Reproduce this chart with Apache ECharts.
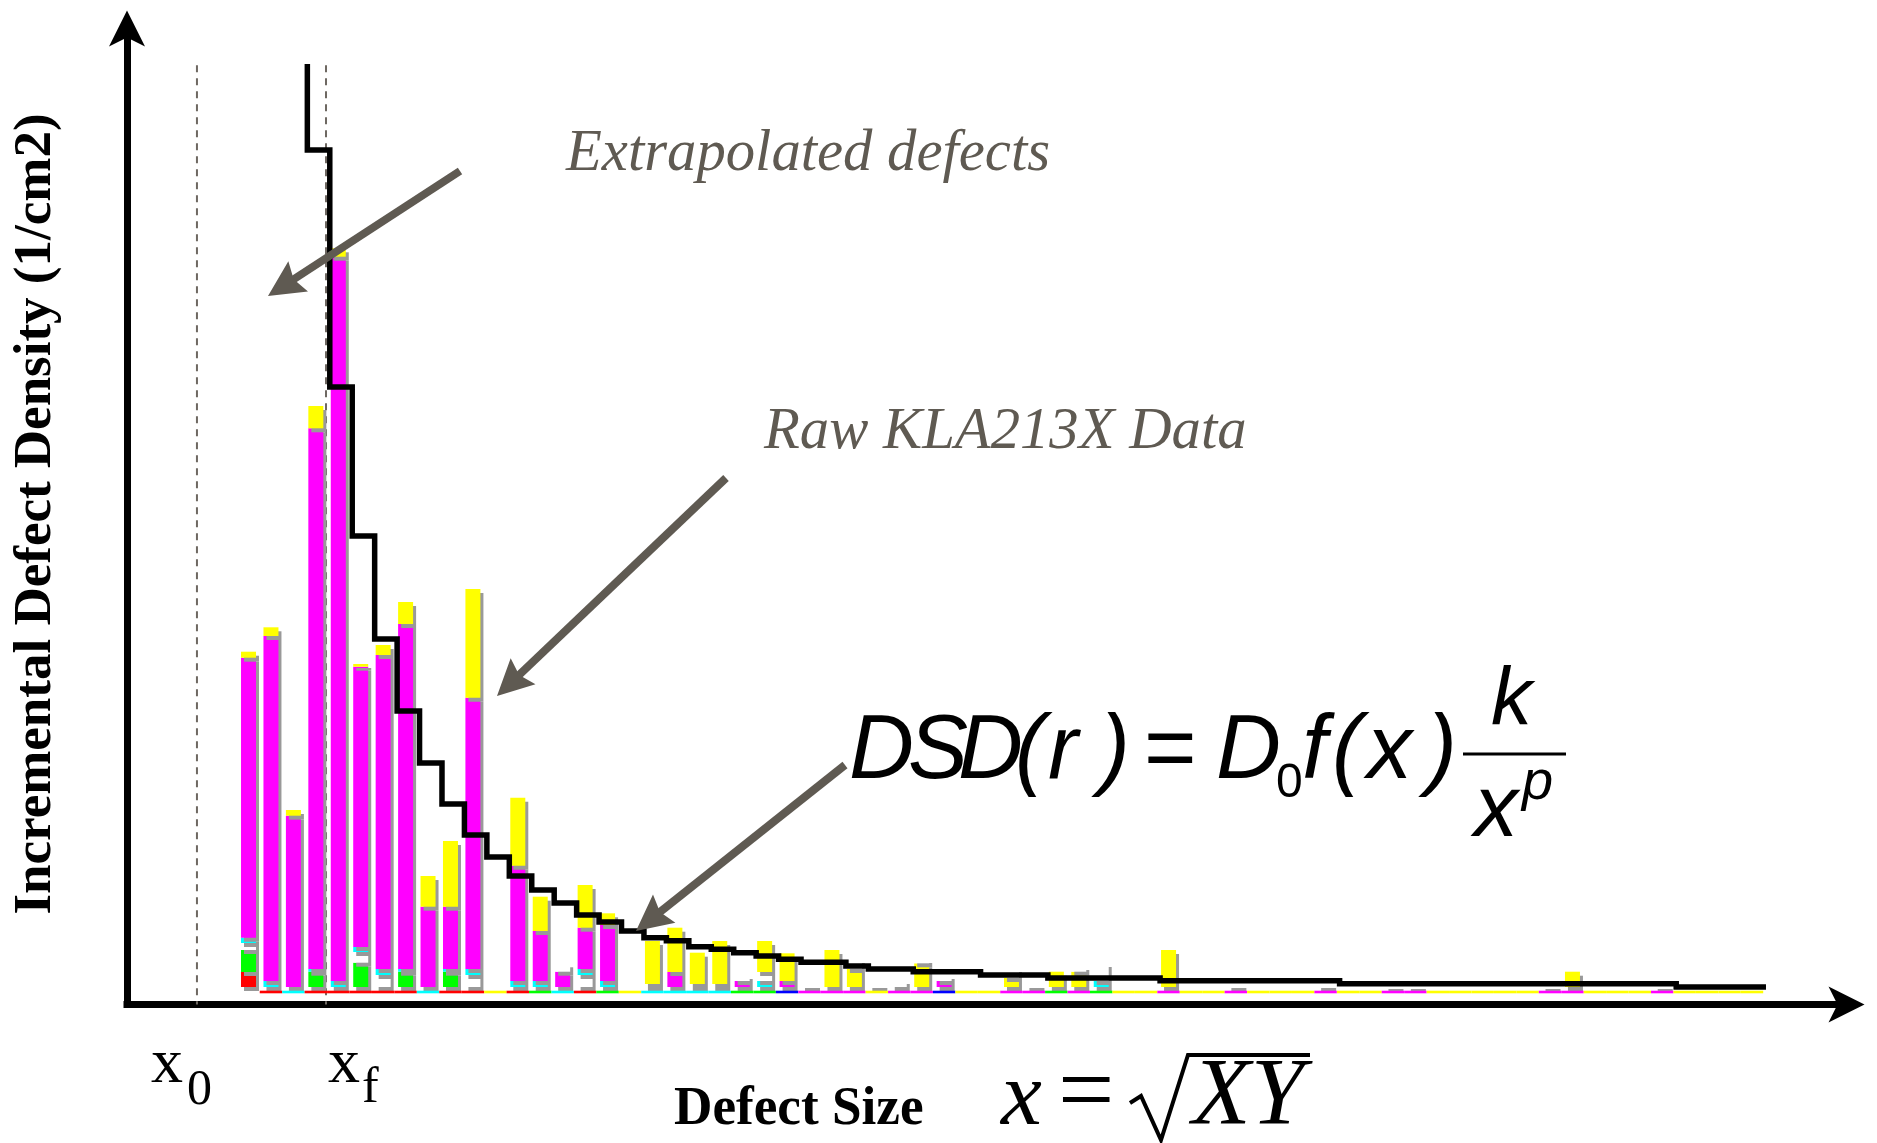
<!DOCTYPE html>
<html><head><meta charset="utf-8">
<script src="https://cdn.jsdelivr.net/npm/echarts@6/dist/echarts.min.js"></script>
<style>html,body{margin:0;padding:0;background:#fff}#c{width:1877px;height:1143px}</style>
</head><body><div id="c"></div>
<script>
// ---------- DATA (arbitrary density units) ----------
const sizeBins = Array.from({length: 68}, (_, i) => 'bin ' + (i + 1));   // defect-size bins (category names)

const red = [1.5, 0, 0, 0, 0, 0, 0, 0, 0, 0,  0,0,0,0,0,0,0,0,0,0,  0,0,0,0,0,0,0,0,0,0,  0,0,0,0,0,0,0,0,0,0,
  0,0,0,0,0,0,0,0,0,0,  0,0,0,0,0,0,0,0,0,0,  0,0,0,0,0,0,0,0];
const green = [2.2, 0, 0, 1.53, 0, 2.43, 0, 1.53, 0, 1.53,  0,0,0,0,0,0,0,0,0,0,  0,0,0,0,0,0,0,0,0,0,  0,0,0,0,0,0,0,0,0,0,
  0,0,0,0,0,0,0,0,0,0,  0,0,0,0,0,0,0,0,0,0,  0,0,0,0,0,0,0,0];
const unclassLow = [0.7, 0, 0, 0, 0, 1.07, 1.2, 0, 0, 0,
  1.2, 0, 0, 0, 0, 1.2, 0, 0, 0.3, 0,
  0.3, 0.3, 0, 0, 0, 0.3, 0, 0, 0.3, 0.7,
  0, 0, 0, 0, 0, 0.3, 0, 0, 0, 0,
  0, 0, 0, 0, 0.3, 0, 0, 0, 0.3, 0,
  0, 0.2, 0.2, 0, 0, 0, 0, 0, 0.2, 0,
  0, 0, 0, 0.2, 0, 0, 0, 0];
const cyan = [0.53, 0.6, 0, 0.27, 0.6, 0.5, 0.6, 0.27, 0, 0.27,
  0.6, 0, 0.6, 0.6, 0, 0.6, 0.6, 0, 0, 0,
  0, 0, 0, 0.6, 0, 0, 0, 0, 0, 0,
  0, 0, 0, 0, 0, 0, 0, 0, 0.6, 0,
  0,0,0,0,0,0,0,0,0,0,  0,0,0,0,0,0,0,0,0,0,  0,0,0,0,0,0,0,0];
const unclassMid = [0,0,0,0,0,0,0,0,0,0,  0,0,0,0,0,0,0,0,0,0,  0,0,0,0.9,0,0,0,0,0,0,  0,0,0,0,0,0,0,0,0,0,
  0,0,0,0,0,0,0,0,0,0,  0,0,0,0,0,0,0,0,0,0,  0,0,0,0,0,0,0,0];
const magenta = [28.0, 34.5, 17.13, 54.07, 72.43, 28.03, 31.4, 34.5, 8.03, 6.23,
  27.13, 0, 11.53, 5.0, 1.53, 4.13, 5.6, 0, 0, 1.5,
  0, 0, 0.6, 0, 0.6, 0, 0, 0, 0, 0,
  0, 0.6, 0, 0, 0, 0, 0, 0, 0, 0,
  0,0,0,0,0,0,0,0,0,0,  0,0,0,0,0,0,0,0,0,0,  0,0,0,0,0,0,0,0];
const yellow = [0.6, 0.87, 0.57, 2.23, 0.84, 0.27, 1.0, 2.2, 3.07, 6.57,
  10.87, 0, 6.8, 3.43, 0, 4.27, 1.17, 0, 4.3, 4.43,
  3.13, 4.3, 0, 3.1, 2.77, 0, 3.7, 1.8, 0, 0,
  2.37, 0, 0, 0, 0.9, 0, 1.53, 1.53, 0, 0,
  0, 3.7, 0, 0, 0, 0, 0, 0, 0, 0,
  0, 0, 0, 0, 0, 0, 0, 0, 0, 1.53,
  0, 0, 0, 0, 0, 0, 0, 0];
const unclassTop = [0,0,0,0,0,0,0,0,0,0,
  0, 0, 0, 0, 0.84, 0, 0, 0, 0, 0,
  0, 0, 0.6, 0, 0, 0, 0, 1.0, 0, 0,
  0.43, 0.6, 0, 0, 1.0, 0, 0, 0.57, 1.8, 0,
  0,0,0,0,0,0,0,0,0,0,  0,0,0,0,0,0,0,0,0,0,  0,0,0,0,0,0,0,0];
// class colour strip under each bin (R red, C cyan, G green, Y yellow, M magenta, B blue, '' none)
const binClass = ['', 'R','C','R','R','R','R','R','C','R',
  'R','Y','R','G','C','R','G','Y','C','C',
  'C','C','G','G','B','M','M','M','Y','M',
  'M','B','Y','Y','M','M','G','M','G','Y',
  'Y','M','Y','Y','M','Y','Y','Y','M','Y',
  'Y','M','M','Y','Y','Y','Y','Y','M','M',
  'Y','Y','Y','M','Y','Y','Y','Y'];
// fitted DSD curve evaluated at bin edges 0..68 (edges 0-2 are off-scale / extrapolated)
const dsdFit = [null, null, null, 92.3, 83.7, 60.0, 45.1, 34.8, 27.6, 22.4,
  18.3, 15.2, 13.0, 11.1, 9.7, 8.4, 7.2, 6.5, 5.6, 4.93,
  4.63, 4.03, 3.77, 3.43, 3.1, 2.77, 2.47, 2.47, 2.1, 1.8,
  1.8, 1.53, 1.53, 1.53, 1.2, 1.2, 1.2, 0.9, 0.9, 0.9,
  0.9, 0.9, 0.63, 0.63, 0.63, 0.63, 0.63, 0.63, 0.63, 0.63,
  0.33, 0.33, 0.33, 0.33, 0.33, 0.33, 0.33, 0.33, 0.33, 0.33,
  0.33, 0.33, 0.33, 0.33, 0.33, 0, 0, 0, 0];
// x0 and xf markers on the defect-size axis (0..100 scale), and top of the marker lines
const markerNames = ['x0', 'xf'];
const markerPos = [4.06, 11.55];
const markerTop = 95.9;

// ---------- STYLE ----------
const SERIF = '"Liberation Serif","Times New Roman",serif';
const SANS = '"Liberation Sans",Arial,sans-serif';
const ANN = '#5f5a52';
const classPalette = {R: '#ff0000', C: '#00ffff', G: '#00ff00', Y: '#ffff00', M: '#ff00ff', B: '#0000ff'};

const stackDefs = [
  {name: 'Red', data: red, color: '#ff0000'},
  {name: 'Green', data: green, color: '#00ff00'},
  {name: 'Unclassified low', data: unclassLow, color: '#ffffff'},
  {name: 'Cyan', data: cyan, color: '#00ffff'},
  {name: 'Unclassified mid', data: unclassMid, color: '#ffffff'},
  {name: 'Magenta', data: magenta, color: '#ff00ff'},
  {name: 'Yellow', data: yellow, color: '#ffff00'},
  {name: 'Unclassified top', data: unclassTop, color: '#ffffff'}
];

function T(text, x, baseline, size, font, fill, extra) {
  return Object.assign({
    type: 'text', x: x, y: baseline - 0.34 * size, z: 100,
    style: {text: text, font: font.replace('SZ', size + 'px'), fill: fill || '#000', align: 'left', verticalAlign: 'middle'}
  }, extra || {});
}
function arrow(x1, y1, x2, y2) {
  const dx = x2 - x1, dy = y2 - y1, L = Math.hypot(dx, dy), ux = dx / L, uy = dy / L, nx = -uy, ny = ux;
  const hl = 36, hw = 18, bx = x2 - ux * hl, by = y2 - uy * hl;
  return [
    {type: 'line', z: 100, shape: {x1: x1, y1: y1, x2: x2 - ux * hl * 0.7, y2: y2 - uy * hl * 0.7}, style: {stroke: ANN, lineWidth: 8}},
    {type: 'polygon', z: 100, shape: {points: [[x2, y2], [bx + nx * hw, by + ny * hw], [x2 - ux * hl * 0.85, y2 - uy * hl * 0.85], [bx - nx * hw, by - ny * hw]]}, style: {fill: ANN}}
  ];
}
const IS = 'italic SZ ' + SANS;

const graphics = [
  {type: 'text', x: 36, y: 514, rotation: Math.PI / 2, z: 100,
   style: {text: 'Incremental Defect Density (1/cm2)', font: 'bold 53px ' + SERIF, fill: '#000', align: 'center', verticalAlign: 'middle'}},
  T('Extrapolated defects', 566, 175, 58.7, 'italic SZ ' + SERIF, ANN),
  T('Raw KLA213X Data', 764, 453, 58.7, 'italic SZ ' + SERIF, ANN),
  // DSD formula
  T('D', 849, 784, 90, IS),
  T('S', 908, 784, 90, IS),
  T('D', 958, 784, 90, IS),
  T('(', 1015, 784, 90, IS),
  T('r', 1048, 784, 90, IS),
  T(')', 1100, 784, 90, IS),
  T('=', 1144, 784, 90, 'SZ ' + SANS),
  T('D', 1216, 784, 90, IS),
  T('0', 1276, 800, 48, 'SZ ' + SANS),
  T('f', 1302, 784, 90, IS),
  T('(', 1332, 784, 90, IS),
  T('x', 1367, 784, 90, IS),
  T(')', 1427, 784, 90, IS),
  {type: 'line', z: 100, shape: {x1: 1463, y1: 754, x2: 1566, y2: 754}, style: {stroke: '#000', lineWidth: 3}},
  T('k', 1491, 729, 82, IS),
  T('x', 1474, 841, 88, IS),
  T('p', 1522, 802, 56, IS),
  // marker labels
  T('x', 151, 1087, 64, 'SZ ' + SERIF),
  T('0', 187, 1108, 50, 'SZ ' + SERIF),
  T('x', 328, 1087, 64, 'SZ ' + SERIF),
  T('f', 362, 1106, 50, 'SZ ' + SERIF),
  // axis title
  T('Defect Size', 674, 1128, 54, 'bold SZ ' + SERIF, '#000', {scaleX: 0.985}),
  T('x', 1001, 1131, 92, 'italic SZ ' + SERIF),
  T('=', 1058, 1131, 100, 'SZ ' + SERIF),
  {type: 'polyline', z: 100, shape: {points: [[1130, 1103], [1141, 1096], [1161, 1140], [1188, 1055], [1310, 1055]]}, style: {stroke: '#000', lineWidth: 4, fill: null}},
  T('XY', 1192, 1131, 96, 'italic SZ ' + SERIF)
].concat(arrow(460, 171, 268, 296), arrow(726, 478, 497, 696), arrow(845, 765, 636, 931));

const hiddenCat = (gi, data) => ({type: 'category', gridIndex: gi, data: data, show: false});
const hiddenVal = (gi, min, max) => ({type: 'value', gridIndex: gi, min: min, max: max, show: false});
const arrowAxis = () => ({
  type: 'value', gridIndex: 0, min: 0, max: 100,
  axisLine: {show: true, onZero: false, symbol: ['none', 'arrow'], symbolSize: [27, 36], symbolOffset: [0, 14.5],
    lineStyle: {color: '#000', width: 7, cap: 'square'}},
  axisTick: {show: false}, axisLabel: {show: false}, splitLine: {show: false}
});

const series = stackDefs.map(d => ({
  type: 'bar', name: d.name, xAxisIndex: 1, yAxisIndex: 1, stack: 'raw', barWidth: 15, silent: true,
  data: d.data.map(v => v > 0 ? v : '-'),
  itemStyle: {color: d.color, shadowColor: '#999999', shadowOffsetX: 3, shadowOffsetY: 4, shadowBlur: 0}
}));
series.push({
  type: 'bar', name: 'class strip', xAxisIndex: 3, yAxisIndex: 3, barWidth: '100%', silent: true, z: 3,
  data: binClass.map(c => c ? {value: 1, itemStyle: {color: classPalette[c]}} : '-')
});
series.push({
  type: 'line', name: 'DSD fit', xAxisIndex: 2, yAxisIndex: 2, step: 'start', symbol: 'none', clip: false, z: 5,
  data: dsdFit.map((v, i) => v == null ? null : [i, v]).filter(p => p),
  lineStyle: {color: '#000', width: 5.5, join: 'miter', cap: 'butt'}
});
markerNames.forEach((n, i) => series.push({
  type: 'line', name: n, xAxisIndex: 0, yAxisIndex: 0, symbol: 'none', clip: false, z: 1,
  data: [[markerPos[i], markerTop], [markerPos[i], 0]],
  lineStyle: {color: '#6e6862', width: 2, type: [7, 6]}
}));

const chart = echarts.init(document.getElementById('c'), null, {renderer: 'canvas'});
chart.setOption({
  animation: false,
  backgroundColor: '#fff',
  grid: [
    {left: 127, right: 27, top: 25, bottom: 138.5, outerBoundsMode: 'none', containLabel: false},
    {left: 237.3, right: 113.8, top: 57, bottom: 156, outerBoundsMode: 'none'},
    {left: 228.8, right: 99.8, top: 57, bottom: 156, outerBoundsMode: 'none'},
    {left: 237.3, right: 113.8, top: 990.7, bottom: 149.7, outerBoundsMode: 'none'}
  ],
  xAxis: [arrowAxis(), hiddenCat(1, sizeBins), hiddenVal(2, -0.5, 68.5), hiddenCat(3, sizeBins)],
  yAxis: [arrowAxis(), hiddenVal(1, 0, 93), hiddenVal(2, 0, 93), hiddenVal(3, 0, 1)],
  series: series,
  graphic: graphics
});
</script></body></html>
